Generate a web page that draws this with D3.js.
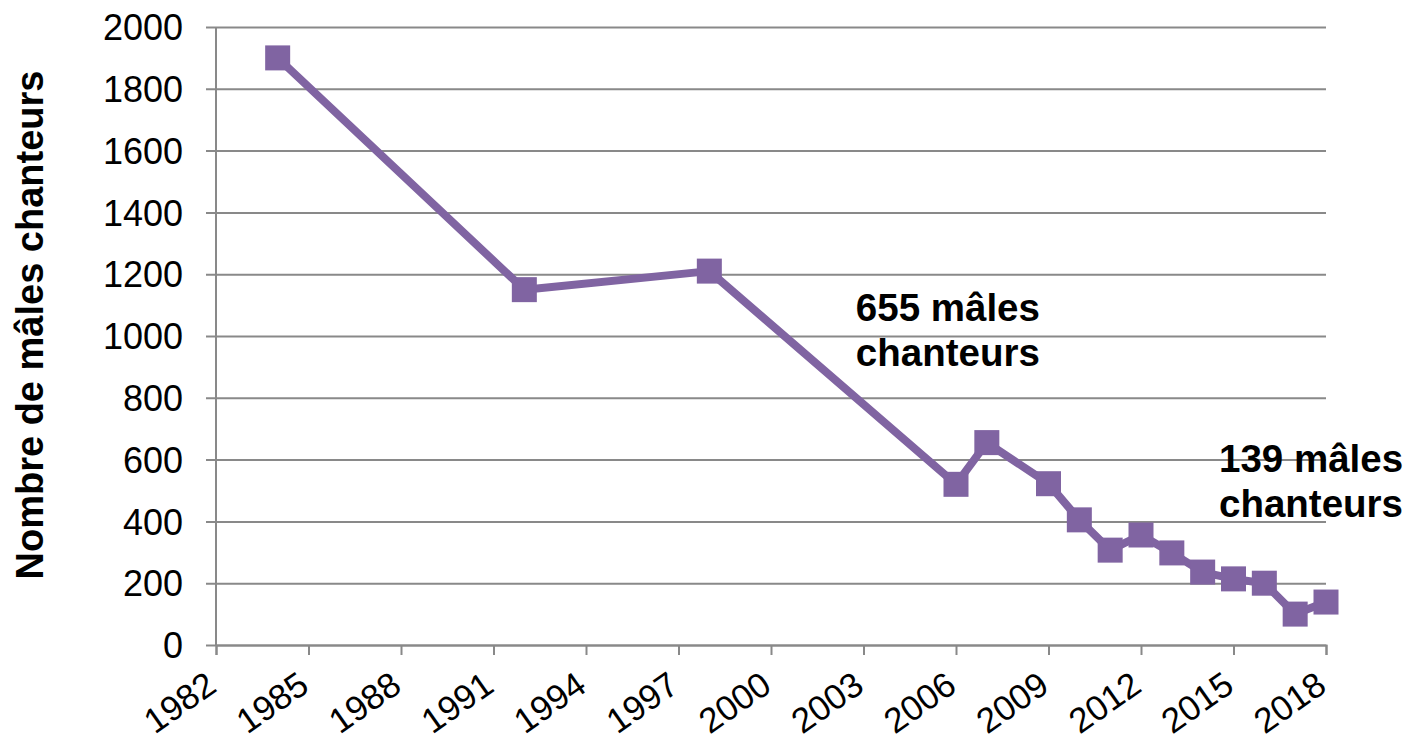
<!DOCTYPE html>
<html>
<head>
<meta charset="utf-8">
<script src="https://cdn.jsdelivr.net/npm/d3@7"></script>
<style>
  body { margin: 0; background: #fff; }
  text { font-family: "Liberation Sans", Arial, sans-serif; }
</style>
</head>
<body>
<div id="chart"></div>
<script>
// données
var years = [1984, 1992, 1998, 2006, 2007, 2009, 2010, 2011, 2012, 2013, 2014, 2015, 2016, 2017, 2018];
var males = [1900, 1150, 1210, 520, 655, 522, 405, 307, 356, 298, 236, 214, 200, 100, 139];
var xTicks = [1982, 1985, 1988, 1991, 1994, 1997, 2000, 2003, 2006, 2009, 2012, 2015, 2018];
var yTicks = [0, 200, 400, 600, 800, 1000, 1200, 1400, 1600, 1800, 2000];
var notes = [
  { year: 2007, value: 655, lines: ['655 mâles', 'chanteurs'] },
  { year: 2018, value: 139, lines: ['139 mâles', 'chanteurs'] }
];

var width = 1414;
var height = 741;
var margin = { top: 27, right: 88, bottom: 96, left: 216 };
var w = width - margin.left - margin.right;
var h = height - margin.top - margin.bottom;
var color = '#8064A2';
var gridColor = '#898989';

var svg = d3.select('#chart').append('svg')
  .attr('width', width).attr('height', height);

var g = svg.append('g')
  .attr('transform', 'translate(' + margin.left + ',' + margin.top + ')');

var x = d3.scaleLinear().domain([1982, 2018]).range([0, w]);
var y = d3.scaleLinear().domain([0, 2000]).range([h, 0]);

// grille horizontale + graduations de l'axe Y
var yAxis = g.append('g')
  .call(d3.axisLeft(y).tickValues(yTicks).tickSize(-w - 10).tickPadding(22).tickFormat(d3.format('d')))
  .attr('transform', 'translate(-10,0)');
yAxis.select('.domain').remove();
yAxis.selectAll('.tick line').attr('stroke', gridColor).attr('stroke-width', 2);
yAxis.selectAll('.tick text')
  .attr('x', -23)
  .attr('dy', '0.35em')
  .attr('font-size', 36)
  .attr('fill', '#000');

// axe vertical
g.append('line')
  .attr('x1', 0).attr('x2', 0).attr('y1', 0).attr('y2', h)
  .attr('stroke', gridColor).attr('stroke-width', 2);

// axe X
var xAxis = g.append('g')
  .attr('transform', 'translate(0,' + h + ')')
  .call(d3.axisBottom(x).tickValues(xTicks).tickSize(10).tickFormat(d3.format('d')));
xAxis.select('.domain').attr('stroke', gridColor).attr('stroke-width', 2);
xAxis.selectAll('.tick line').attr('stroke', gridColor).attr('stroke-width', 2);
xAxis.selectAll('.tick text')
  .attr('font-size', 35)
  .attr('fill', '#000')
  .attr('text-anchor', 'end')
  .attr('x', 0)
  .attr('y', 0)
  .attr('dy', 0)
  .attr('transform', 'translate(2,45) rotate(-35)');

// titre de l'axe Y
svg.append('text')
  .attr('transform', 'translate(43,325) rotate(-90)')
  .attr('text-anchor', 'middle')
  .attr('font-size', 38)
  .attr('font-weight', 'bold')
  .text('Nombre de mâles chanteurs');

var data = years.map(function(d, i) { return { year: d, value: males[i] }; });

var line = d3.line()
  .x(function(d) { return x(d.year); })
  .y(function(d) { return y(d.value); });

g.append('path')
  .datum(data)
  .attr('fill', 'none')
  .attr('stroke', color)
  .attr('stroke-width', 8)
  .attr('stroke-linejoin', 'round')
  .attr('d', line);

var s = 25;
g.selectAll('rect.pt')
  .data(data)
  .enter().append('rect')
  .attr('class', 'pt')
  .attr('x', function(d) { return x(d.year) - s / 2; })
  .attr('y', function(d) { return y(d.value) - s / 2; })
  .attr('width', s).attr('height', s)
  .attr('fill', color);

// annotations
var noteOffsets = [{ dx: -131, dy: -122 }, { dx: -107, dy: -130 }];
notes.forEach(function(n, i) {
  var t = g.append('text')
    .attr('x', x(n.year) + noteOffsets[i].dx)
    .attr('y', y(n.value) + noteOffsets[i].dy)
    .attr('font-size', 38.5)
    .attr('font-weight', 'bold')
    .attr('fill', '#000');
  n.lines.forEach(function(l, j) {
    t.append('tspan')
      .attr('x', x(n.year) + noteOffsets[i].dx)
      .attr('dy', j === 0 ? 0 : 45)
      .text(l);
  });
});
</script>
</body>
</html>
